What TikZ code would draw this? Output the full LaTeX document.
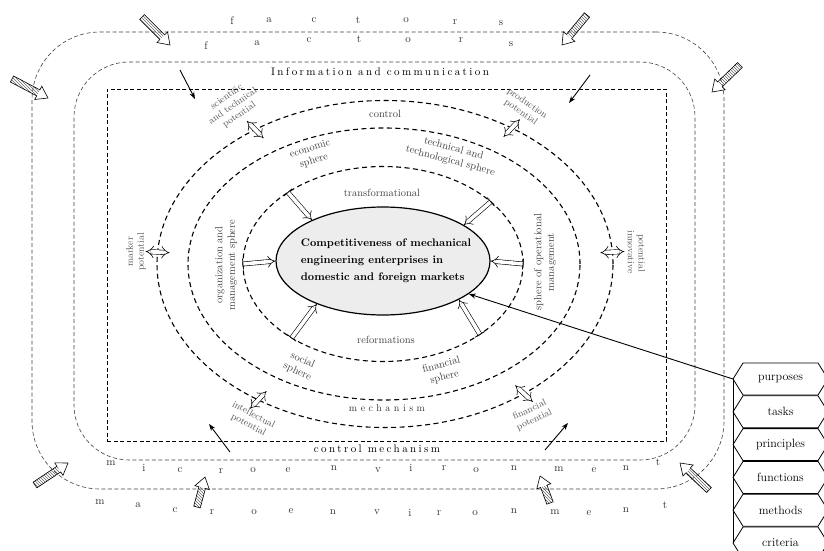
\documentclass[tikz,border=0pt]{standalone}
\usepackage{fontspec}
\setmainfont{Latin Modern Roman}
\usetikzlibrary{shapes.geometric,shapes.symbols,arrows.meta,calc,positioning,patterns}

\tikzset{
  ring/.style={draw, ellipse, dash pattern=on 5pt off 3.5pt, line width=1.1pt, inner sep=0pt, outer sep=0pt},
  frame/.style={draw=black!75, dash pattern=on 4pt off 2.5pt, line width=0.6pt, inner sep=0pt, outer sep=0pt},
  hollow/.style={double, double distance=3.6pt, line width=0.6pt, -{Implies}},
  twoway/.style={double, double distance=3.8pt, line width=0.6pt, {Implies}-{Implies}},
  hatchfill/.style={pattern=north west lines, pattern color=black!60},
  pointer/.style={-{Stealth[length=7pt,width=5pt]}, line width=0.9pt},
  sphere/.style={text=black!75, font=\fontsize{10.5}{12.5}\selectfont, align=center, inner sep=0pt},
  potential/.style={text=black!65, font=\fontsize{9.5}{11}\selectfont, align=center, inner sep=0pt},
  letter/.style={font=\fontsize{11}{11}\selectfont, text=black!80, inner sep=0pt},
  spread/.style={font=\fontsize{11}{11}\selectfont\addfontfeature{LetterSpace=22}, inner sep=0pt},
  task/.style={signal, signal to=east and west, signal pointer angle=116, draw, line width=0.8pt,
    minimum width=95pt, minimum height=32pt, inner sep=0pt, outer sep=0pt, font=\fontsize{12}{12}\selectfont}
}

\begin{document}
\begin{tikzpicture}[x=1pt, y=-1pt, node distance=0.8pt]
\useasboundingbox (0,0) rectangle (824,551);

\node[frame, rounded corners=68pt, minimum width=692pt, minimum height=457pt] (macroenv) at (378,260.5) {};
\node[frame, rounded corners=55pt, minimum width=621pt, minimum height=398pt] (microenv) at (384.5,261) {};
\node[frame, draw=black, minimum width=559pt, minimum height=352pt] (inner) at (386.5,265) {};

\node[ring, minimum width=456pt, minimum height=327pt] (ring3) at (385,264) {};
\node[ring, minimum width=392pt, minimum height=272pt] (ring2) at (384,264) {};
\node[ring, minimum width=280pt, minimum height=195pt] (ring1) at (383,264) {};
\node[draw, ellipse, fill=black!7, line width=1.2pt, inner sep=0pt, minimum width=214pt, minimum height=108pt] (core) at (383,261) {};
\node[font=\fontsize{11}{17}\selectfont\bfseries, align=left, inner sep=0pt] (coretext) at (386,261)
  {Competitiveness of mechanical\\engineering enterprises in\\domestic and foreign markets};

\foreach \r/\c in {143/150, 30/24, 180/180, 0/0, 219/213, 324/333} {
  \draw[hollow] (ring1.\r) -- (core.\c);
  \draw[line width=0.8pt] ($(ring1.\r)!5.5pt!90:(core.\c)$) -- ($(ring1.\r)!5.5pt!-90:(core.\c)$);
}

\foreach \t in {134, 47.6, 177, 3, 227.5, 317.4}
  \draw[twoway] ($(ring3.\t)!-12pt!(ring3.center)$) -- ($(ring3.\t)!12pt!(ring3.center)$);

\node[sphere] (control) at (385,114) {control};
\node[sphere] (transf) at (382,193) {transformational};
\node[sphere] (reform) at (386,340) {reformations};
\node[inner sep=0pt, text=black!80, font=\fontsize{10}{10}\selectfont\addfontfeature{LetterSpace=35}] (mech) at (387,408) {mechanism};

\node[sphere, rotate=18] (econ) at (312,155) {economic\\sphere};
\node[sphere, rotate=-15] (techn) at (452,155) {technical and\\technological sphere};
\node[sphere, rotate=90] (organ) at (226,265) {organization and\\management sphere};
\node[sphere, rotate=90] (operat) at (545,262) {sphere of operational\\management};
\node[sphere, rotate=-25] (social) at (300,366) {social\\sphere};
\node[sphere, rotate=15] (financ) at (443,371) {financial\\sphere};

\node[potential, rotate=35] (scient) at (233,106) {scientific\\and technical\\potential};
\node[potential, rotate=-35] (product) at (524,108) {production\\potential};
\node[potential, rotate=90] (market) at (136,252) {marker\\potential};
\node[potential, rotate=-90] (innov1) at (631,252) {innovative};
\node[potential, rotate=-90] (innov2) at (641,253) {potential};
\node[potential, rotate=-28] (intell) at (251,420) {intellectual\\potential};
\node[potential, rotate=25] (finpot) at (532,415) {financial\\potential};

\node[spread] (info) at (380,72) {Information and communication};
\node[spread] (ctrlmech) at (377,449) {control mechanism};

\foreach \l/\x/\y [count=\i] in {f/232/21, a/269/20, c/314/20, t/358/20, o/406/20, r/455/22, s/501/23}
  \node[letter] (fa\i) at (\x,\y) {\l};
\foreach \l/\x/\y [count=\i] in {f/206/46, a/257/43, c/309/40, t/359/39, o/408/40, r/461/40, s/511/44}
  \node[letter] (fb\i) at (\x,\y) {\l};
\foreach \l/\x/\y [count=\i] in {m/111/463, i/144/468, c/180/470, r/221/471, o/253/470, e/288/470,
    n/334/468, v/378/470, i/411/468, r/444/468, o/476/470, n/514/468, m/559/469, e/594/470, n/626/468, t/658/462}
  \node[letter] (mi\i) at (\x,\y) {\l};
\foreach \l/\x/\y [count=\i] in {m/100/502, a/138/505, c/175/510, r/212/512, o/254/512, e/291/511,
    n/333/512, v/377/512, i/410/513, r/439/513, o/475/513, n/514/511, m/555/512, e/589/513, n/626/510, t/665/505}
  \node[letter] (ma\i) at (\x,\y) {\l};

\coordinate (tl1) at (180,70);  \coordinate (tl2) at (195,99);
\coordinate (tr1) at (590,75);  \coordinate (tr2) at (569,103);
\coordinate (bl1) at (230,452); \coordinate (bl2) at (209,424);
\coordinate (br1) at (545,450); \coordinate (br2) at (568,423);
\draw[pointer] (tl1) -- (tl2);
\draw[pointer] (tr1) -- (tr2);
\draw[pointer] (bl1) -- (bl2);
\draw[pointer] (br1) -- (br2);

\foreach \a/\b/\c/\d [count=\i] in {142/17/170/45, 12/79/48/98, 587/15/562/45, 740/65/712/92,
    35/485/68/463, 197/507/205/477, 550/503/540/476, 709/490/680/463} {
  \coordinate (hs\i) at (\a,\b);
  \coordinate (he\i) at (\c,\d);
  \coordinate (hb\i) at ($(he\i)!11pt!(hs\i)$);
  \fill[hatchfill] ($(hs\i)!3.4pt!90:(he\i)$) -- ($(hb\i)!3.4pt!90:(he\i)$)
    -- ($(hb\i)!3.4pt!-90:(he\i)$) -- ($(hs\i)!3.4pt!-90:(he\i)$) -- cycle;
  \draw[line width=0.6pt, line join=miter] ($(hs\i)!3.4pt!90:(he\i)$) -- ($(hb\i)!3.4pt!90:(he\i)$)
    -- ($(hb\i)!7.5pt!90:(he\i)$) -- (he\i) -- ($(hb\i)!7.5pt!-90:(he\i)$)
    -- ($(hb\i)!3.4pt!-90:(he\i)$) -- ($(hs\i)!3.4pt!-90:(he\i)$) -- cycle;
}

\node[task] (purposes) at (780.5,379) {purposes};
\node[task, below=of purposes] (tasks) {tasks};
\node[task, below=of tasks] (principles) {principles};
\node[task, below=of principles] (functions) {functions};
\node[task, below=of functions] (methods) {methods};
\node[task, below=of methods] (criteria) {criteria};
\draw[line width=0.9pt] (purposes.west) -- (criteria.west);
\draw[pointer] (purposes.west) -- (core.-21);
\end{tikzpicture}
\end{document}
